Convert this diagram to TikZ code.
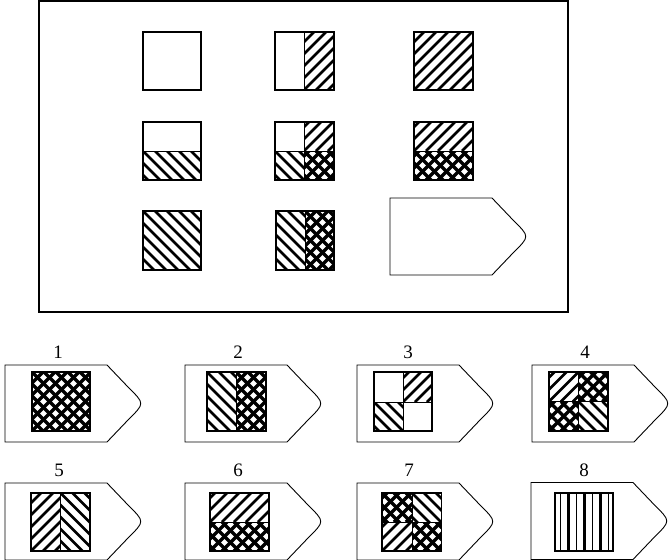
\documentclass[tikz,border=0pt]{standalone}
\usepackage{fontspec}
\setmainfont{Liberation Serif}
\tikzset{
  box/.style={line width=1.5pt},
  hatch/.style={line width=2.6pt},
  xhatch/.style={line width=3.2pt},
  tabline/.style={line width=.9pt},
  num/.style={font=\fontsize{19}{21}\selectfont,inner sep=0pt}
}
% hatching of a cell (x1,y1) to (x2,y2), y counted downwards
\newcommand{\hne}[4]{\begin{scope}\clip (#1,#2) rectangle (#3,#4);
  \foreach \k in {-72,-60,...,72} \draw[hatch] (#1+\k,#4) -- ++(72,-72);
  \end{scope}}
\newcommand{\hnw}[4]{\begin{scope}\clip (#1,#2) rectangle (#3,#4);
  \foreach \k in {-72,-60,...,72} \draw[hatch] (#1+\k,#2) -- ++(72,72);
  \end{scope}}
\newcommand{\hx}[4]{\begin{scope}\clip (#1,#2) rectangle (#3,#4);
  \foreach \k in {-72,-60,...,72} {\draw[xhatch] (#1+\k,#4) -- ++(72,-72);
    \draw[xhatch] (#1+\k,#2) -- ++(72,72);}
  \end{scope}}
% answer card with pointed right end
\newcommand{\tabshape}[2]{\draw[tabline] (#1,#2) -- (#1+102,#2) -- (#1+123,#2+22)
  .. controls (#1+140,#2+39) and (#1+140,#2+38) .. (#1+123,#2+55)
  -- (#1+102,#2+77) -- (#1,#2+77) -- cycle;}
\begin{document}
\begin{tikzpicture}[x=1pt,y=-1pt]
\useasboundingbox (0,0) rectangle (670,560);
\draw[line width=1.2pt] (39,1) rectangle (568,312);

% row 1
\draw[box] (143,32) rectangle (201,90);
\hne{304}{32}{334}{90}; \draw (304,32)--(304,90);
\draw[box] (275,32) rectangle (334,90);
\hne{414}{32}{473}{90};
\draw[box] (414,32) rectangle (473,90);

% row 2
\hnw{143}{151}{201}{180}; \draw (143,151)--(201,151);
\draw[box] (143,122) rectangle (201,180);
\hne{304}{122}{334}{151}; \hnw{275}{151}{304}{180}; \hx{304}{151}{334}{180};
\draw (304,122)--(304,180); \draw (275,151)--(334,151);
\draw[box] (275,122) rectangle (334,180);
\hne{414}{122}{473}{151}; \hx{414}{151}{473}{180}; \draw (414,151)--(473,151);
\draw[box] (414,122) rectangle (473,180);

% row 3
\hnw{143}{211}{201}{270};
\draw[box] (143,211) rectangle (201,270);
\hnw{276}{211}{305}{270}; \hx{305}{211}{334}{270}; \draw (305,211)--(305,270);
\draw[box] (276,211) rectangle (334,270);
\tabshape{390}{198}

% answers 1-4
\node[num] (l1) at (58,352) {1};
\node[num] (l2) at (238,352) {2};
\node[num] (l3) at (408,352) {3};
\node[num] (l4) at (585,352) {4};
\tabshape{5}{365} \tabshape{185}{365} \tabshape{357}{365} \tabshape{532}{365}
\hx{32}{372}{90}{431};
\draw[box] (32,372) rectangle (90,431);
\hnw{207}{372}{236}{431}; \hx{236}{372}{266}{431}; \draw (236,372)--(236,431);
\draw[box] (207,372) rectangle (266,431);
\hne{403}{372}{432}{402}; \hnw{374}{402}{403}{431};
\draw (403,372)--(403,431); \draw (374,402)--(432,402);
\draw[box] (374,372) rectangle (432,431);
\hne{549}{372}{578.5}{401.5}; \hx{578.5}{372}{608}{401.5};
\hx{549}{401.5}{578.5}{431}; \hnw{578.5}{401.5}{608}{431};
\draw (578.5,372)--(578.5,431); \draw (549,401.5)--(608,401.5);
\draw[box] (549,372) rectangle (608,431);

% answers 5-8
\node[num] (l5) at (59,470) {5};
\node[num] (l6) at (238,470) {6};
\node[num] (l7) at (409,470) {7};
\node[num] (l8) at (584,470) {8};
\tabshape{5}{483} \tabshape{185}{483} \tabshape{357}{483} \tabshape{531}{482.5}
\hne{31}{493}{60.5}{551}; \hnw{60.5}{493}{90}{551}; \draw (60.5,493)--(60.5,551);
\draw[box] (31,493) rectangle (90,551);
\hne{210}{493}{269}{522}; \hx{210}{522}{269}{551}; \draw (210,522)--(269,522);
\draw[box] (210,493) rectangle (269,551);
\hx{382}{493}{412}{522}; \hnw{412}{493}{441.5}{522};
\hne{382}{522}{412}{551}; \hx{412}{522}{441.5}{551};
\draw (412,493)--(412,551); \draw (382,522)--(441.5,522);
\draw[box] (382,493) rectangle (441.5,551);
\foreach \x/\w in {560.5/1.4,568.5/2.2,576.5/1.4,584.5/2.2,592.5/1.4,600.5/2.2,608.5/1.4}
  \draw[line width=\w pt] (\x,493)--(\x,551);
\draw[box] (555,493) rectangle (613,551);
\end{tikzpicture}
\end{document}
